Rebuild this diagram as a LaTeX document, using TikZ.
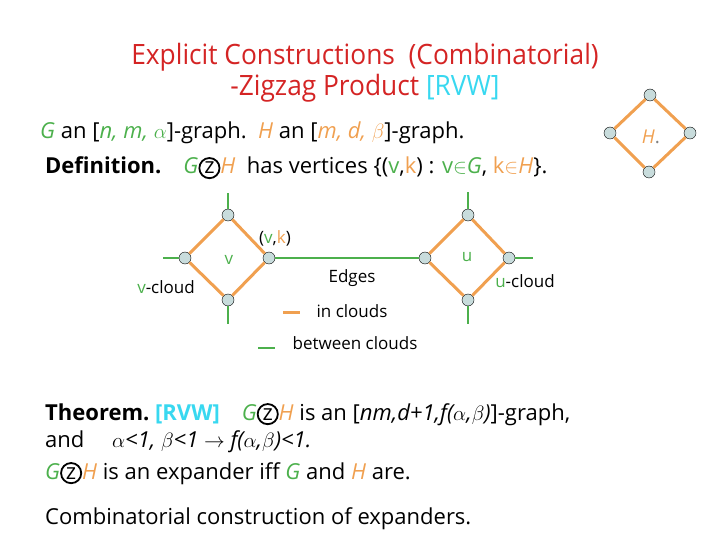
\documentclass[tikz,border=0pt]{standalone}
\usepackage{fontspec}
\setmainfont{Open Sans}
\newfontfamily\titlefont[FakeStretch=0.94]{Open Sans}
\usetikzlibrary{positioning}
\definecolor{gcol}{HTML}{4CB04C}
\definecolor{ocol}{HTML}{F0A050}
\definecolor{tred}{HTML}{D42424}
\definecolor{tcyan}{HTML}{38D8F0}
\definecolor{vfill}{HTML}{C8DCDC}

\tikzset{
  vtx/.style={circle, draw=black, thin, fill=vfill, minimum size=12pt, inner sep=0pt},
  incloud/.style={draw=ocol, line width=3pt},
  between/.style={draw=gcol, line width=2.5pt},
  body/.style={anchor=base west, font=\fontsize{22}{26}\selectfont, inner sep=0pt},
  small/.style={font=\fontsize{17}{20}\selectfont, inner sep=0pt}
}
\newcommand{\zig}{\tikz[baseline=(zc.base)]\node[circle, draw=black, line width=1.8pt, inner sep=1.6pt, text=black](zc){z};}
\newcommand{\G}{\textcolor{gcol}{\textit{G}}}
\newcommand{\Hg}{\textcolor{ocol}{\textit{H}}}

\begin{document}
\begin{tikzpicture}[x=1pt, y=-1pt]
  \useasboundingbox (0,0) rectangle (720,540);
  % title
  \node[text=tred, font=\titlefont\fontsize{28}{32}\selectfont] (title1) at (365,57) {Explicit Constructions\ \ (Combinatorial)};
  \node[text=tred, font=\titlefont\fontsize{28}{32}\selectfont] (title2) at (365,88) {-Zigzag Product \textcolor{tcyan}{[RVW]}};
  % definitions
  \node[body] (line1) at (40,139) {\G{} an [\textcolor{gcol}{\textit{n, m, $\alpha$}}]-graph.\ \ \Hg{} an [\textcolor{ocol}{\textit{m, d, $\beta$}}]-graph.};
  \node[body] (line2) at (45,174) {\textbf{Definition.}\quad \G\zig\Hg\ \ has vertices \{(\textcolor{gcol}{v},\textcolor{ocol}{k}) : \textcolor{gcol}{v$\in$\textit{G}}, \textcolor{ocol}{k$\in$\textit{H}}\}.};

  % v cloud
  \node[vtx] (vt) at (228,215) {};
  \node[vtx] (vl) at (185,258) {};
  \node[vtx] (vr) at (269,258) {};
  \node[vtx] (vb) at (228,300) {};
  % u cloud
  \node[vtx] (ut) at (468,215) {};
  \node[vtx] (ul) at (425,258) {};
  \node[vtx] (ur) at (509,258) {};
  \node[vtx] (ub) at (468,300) {};
  % H
  \node[vtx] (ht) at (650,95) {};
  \node[vtx] (hl) at (610,133) {};
  \node[vtx] (hr) at (690,133) {};
  \node[vtx] (hb) at (649,172) {};

  \coordinate (vtEnd) at (228,193);
  \coordinate (vlEnd) at (163,258);
  \coordinate (vbEnd) at (228,324);
  \coordinate (utEnd) at (468,192);
  \coordinate (urEnd) at (533,258);
  \coordinate (ubEnd) at (468,324);

  % edges between clouds
  \draw[between] (vt) -- (vtEnd);
  \draw[between] (vl) -- (vlEnd);
  \draw[between] (vb) -- (vbEnd);
  \draw[between] (vr) -- (ul);
  \draw[between] (ut) -- (utEnd);
  \draw[between] (ur) -- (urEnd);
  \draw[between] (ub) -- (ubEnd);
  % edges in clouds
  \draw[incloud] (vt) -- (vr) -- (vb) -- (vl) -- (vt);
  \draw[incloud] (ut) -- (ur) -- (ub) -- (ul) -- (ut);
  \draw[incloud] (ht) -- (hr) -- (hb) -- (hl) -- (ht);

  \node[small, font=\fontsize{19}{22}\selectfont] (hlab) at (651,137) {\textcolor{ocol}{\textit{H}}\textcolor{gray}{.}};
  \node[small] (vk) at (275,238) {(\textcolor{gcol}{v},\textcolor{ocol}{k})};
  \node[small, text=gcol] (vlab) at (229,260) {v};
  \node[small] (vcloud) at (166,287) {\textcolor{gcol}{v}-cloud};
  \node[small] (edges) at (352,278) {Edges};
  \node[small, text=gcol] (ulab) at (467,257) {u};
  \node[small] (ucloud) at (525,281) {\textcolor{gcol}{u}-cloud};

  % legend
  \coordinate (inA) at (283,312);
  \coordinate (inB) at (300,312);
  \coordinate (btA) at (258,348);
  \coordinate (btB) at (275,348);
  \draw[incloud] (inA) -- (inB);
  \draw[between] (btA) -- (btB);
  \node[small] (inlab) at (352,311) {in clouds};
  \node[small] (btlab) at (355,343) {between clouds};

  % theorem
  \node[body] (thm1) at (45,420) {\textbf{Theorem.}\ \textcolor{tcyan}{\textbf{[RVW]}}\quad \G\zig\Hg\ is an [\textit{nm,d+1,f($\alpha$,$\beta$)}]-graph,};
  \node[body] (thm2) at (45,447) {and\quad\ \textit{$\alpha$<1, $\beta$<1 $\rightarrow$ f($\alpha$,$\beta$)<1.}};
  \node[body] (thm3) at (45,479) {\G\zig\Hg\ is an expander iff \G{} and \Hg{} are.};
  \node[body] (last) at (45,524) {Combinatorial construction of expanders.};
\end{tikzpicture}
\end{document}
